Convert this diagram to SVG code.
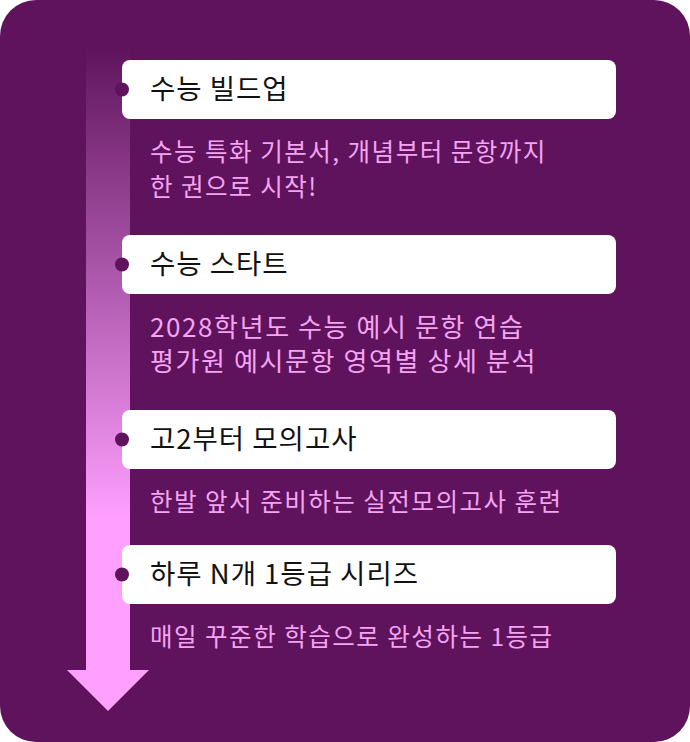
<svg xmlns="http://www.w3.org/2000/svg" width="690" height="742" viewBox="0 0 690 742">
<defs>
<linearGradient id="shaft" x1="0" y1="45" x2="0" y2="520" gradientUnits="userSpaceOnUse">
<stop offset="0" stop-color="#5E135C"/>
<stop offset="1" stop-color="#FFA0FF"/>
</linearGradient>
<style>
.box{fill:#FFFFFF}
.dot{fill:#5E135C}
.title{font-family:"Noto Sans CJK KR","Noto Sans",sans-serif;font-size:27.5px;letter-spacing:1px;font-weight:400;fill:#111111}
.desc{font-family:"Noto Sans CJK KR","Noto Sans",sans-serif;font-size:24.5px;letter-spacing:1.5px;font-weight:400;fill:#F4A4F1}
.wide{font-size:26px;letter-spacing:1.6px}
</style>
</defs>
<rect x="0" y="0" width="690" height="742" rx="36" fill="#5E135C"/>
<g id="connectors">
<rect x="86" y="45" width="44" height="626" fill="url(#shaft)"/>
<polygon points="67,670 149,670 108,711" fill="#FFA0FF"/>
</g>
<g id="node1">
<rect class="box" x="122" y="60" width="494" height="59" rx="8"/>
<circle class="dot" cx="122" cy="89.5" r="7"/>
<text class="title" x="150" y="99">수능 빌드업</text>
<text class="desc" x="150" y="161">수능 특화 기본서, 개념부터 문항까지</text>
<text class="desc" x="150" y="196">한 권으로 시작!</text>
</g>
<g id="node2">
<rect class="box" x="122" y="235" width="494" height="59" rx="8"/>
<circle class="dot" cx="122" cy="264.5" r="7"/>
<text class="title" x="150" y="274">수능 스타트</text>
<text class="desc wide" x="150" y="337">2028학년도 수능 예시 문항 연습</text>
<text class="desc wide" x="150" y="371">평가원 예시문항 영역별 상세 분석</text>
</g>
<g id="node3">
<rect class="box" x="122" y="410" width="494" height="59" rx="8"/>
<circle class="dot" cx="122" cy="439.5" r="7"/>
<text class="title" x="150" y="449">고2부터 모의고사</text>
<text class="desc" x="150" y="511">한발 앞서 준비하는 실전모의고사 훈련</text>
</g>
<g id="node4">
<rect class="box" x="122" y="545" width="494" height="59" rx="8"/>
<circle class="dot" cx="122" cy="574.5" r="7"/>
<text class="title" x="150" y="584">하루 N개 1등급 시리즈</text>
<text class="desc" x="150" y="646">매일 꾸준한 학습으로 완성하는 1등급</text>
</g>
</svg>
